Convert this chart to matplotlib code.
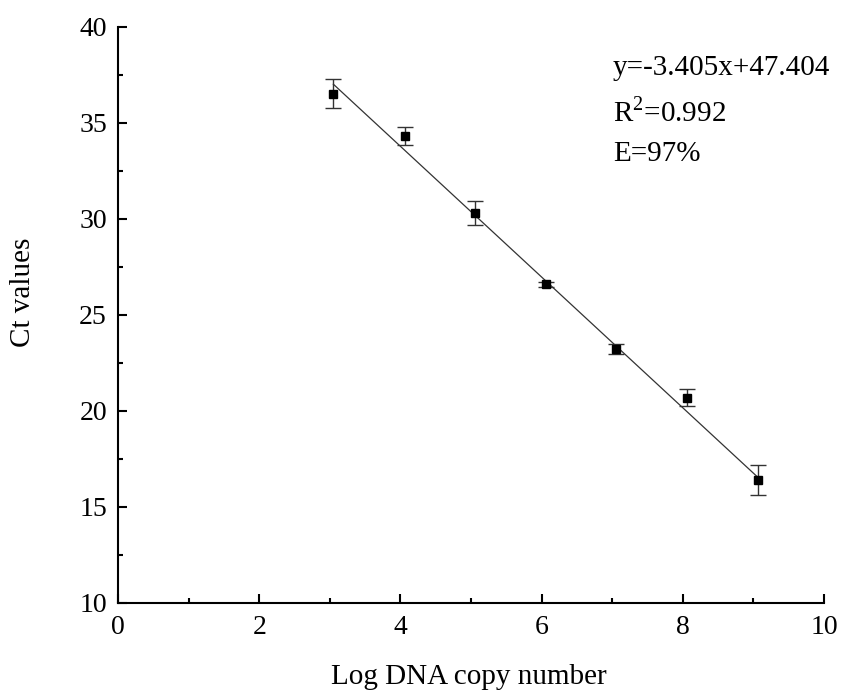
import matplotlib
matplotlib.use("Agg")
import matplotlib.pyplot as plt
from matplotlib.ticker import MultipleLocator
import numpy as np

log_copy = [3.05, 4.06, 5.05, 6.06, 7.06, 8.06, 9.06]
ct_values = [36.52, 34.33, 30.31, 26.60, 23.23, 20.70, 16.40]
ct_err = [0.75, 0.47, 0.62, 0.12, 0.28, 0.44, 0.78]
slope, intercept = -3.405, 47.404
eq_text = "y=-3.405x+47.404"
r2_text = "R$^{2}$=0.992"
eff_text = "E=97%"

plt.rcParams['font.family'] = ['Liberation Serif', 'DejaVu Serif']
plt.rcParams['mathtext.fontset'] = 'custom'
plt.rcParams['mathtext.rm'] = 'Liberation Serif'

fig = plt.figure(figsize=(8.49, 6.91), dpi=100)
ax = fig.add_axes([0.139, 0.1274, 0.8316, 0.8336])

xs = np.array([min(log_copy), max(log_copy)])
ax.plot(xs, np.polyval([slope, intercept], xs), color='#333333', lw=0.9, zorder=2)
ax.errorbar(log_copy, ct_values, yerr=ct_err, fmt='s', color='black', ms=6,
            ecolor='#333333', elinewidth=1.0, capsize=5.5, capthick=1.0, zorder=3)

ax.set_xlim(0, 10)
ax.set_ylim(10, 40)
ax.xaxis.set_major_locator(MultipleLocator(2))
ax.xaxis.set_minor_locator(MultipleLocator(1))
ax.yaxis.set_major_locator(MultipleLocator(5))
ax.yaxis.set_minor_locator(MultipleLocator(2.5))
for s in ['top', 'right']:
    ax.spines[s].set_visible(False)
for s in ['left', 'bottom']:
    ax.spines[s].set_linewidth(1.5)
ax.tick_params(which='major', direction='in', length=6.5, width=1.5, labelsize=20)
ax.tick_params(axis='x', which='major', pad=9)
ax.tick_params(axis='y', which='major', pad=8)
ax.tick_params(which='minor', direction='in', length=3.5, width=1.5)

ax.set_xlabel("Log DNA copy number", fontsize=21)
ax.xaxis.set_label_coords(0.497, -0.128)
ax.xaxis.label.set_va('center')
ax.set_ylabel("Ct values", fontsize=21)
ax.yaxis.set_label_coords(-0.116, 0.54)

ax.text(7.01, 37.86, eq_text, fontsize=21, va='center', ha='left')
ax.text(7.01, 35.57, r2_text, fontsize=21, va='center', ha='left')
ax.text(7.01, 33.40, eff_text, fontsize=21, va='center', ha='left')

fig.savefig("out.png", dpi=100)
